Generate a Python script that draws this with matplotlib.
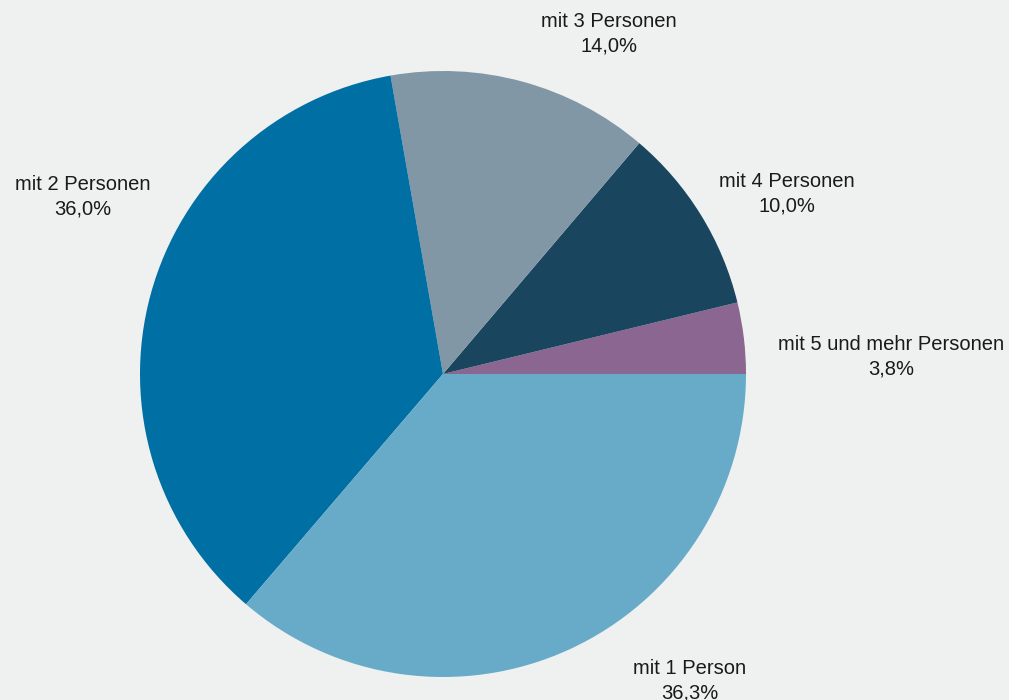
import matplotlib
matplotlib.use("Agg")
from matplotlib import pyplot as plt

# Haushalte nach Personenzahl
labels = ["mit 5 und mehr Personen", "mit 4 Personen", "mit 3 Personen",
          "mit 2 Personen", "mit 1 Person"]
shares = [3.8, 10.0, 14.0, 36.0, 36.3]
colors = ["#8b6690", "#19465e", "#8197a5", "#0070a4", "#67abc9"]

# Beschriftungspositionen (in Radien um den Mittelpunkt)
label_xy = [(1.479, 0.056), (1.135, 0.594), (0.548, 1.122),
            (-1.188, 0.584), (0.815, -1.012)]

bg = "#eff0f0"
plt.rcParams["font.family"] = ["Liberation Sans", "DejaVu Sans"]

fig = plt.figure(figsize=(10.09, 7.00), dpi=100, facecolor=bg)
ax = fig.add_axes([0, 0, 1, 1])
ax.set_facecolor(bg)

wedges, _ = ax.pie(shares, colors=colors, startangle=0, counterclock=True,
                   radius=1.0, wedgeprops={"linewidth": 0})

for lab, val, (x, y) in zip(labels, shares, label_xy):
    txt = "{}\n{}%".format(lab, ("%.1f" % val).replace(".", ","))
    ax.text(x, y, txt, ha="center", va="center", fontsize=14.5,
            linespacing=1.38, color="#1a1a1a")

r = 303.0
ax.set_xlim(-443 / r, (1009 - 443) / r)
ax.set_ylim(-(700 - 374) / r, 374 / r)
ax.set_aspect("auto")
ax.axis("off")

fig.savefig("out.png", dpi=100, facecolor=bg)
